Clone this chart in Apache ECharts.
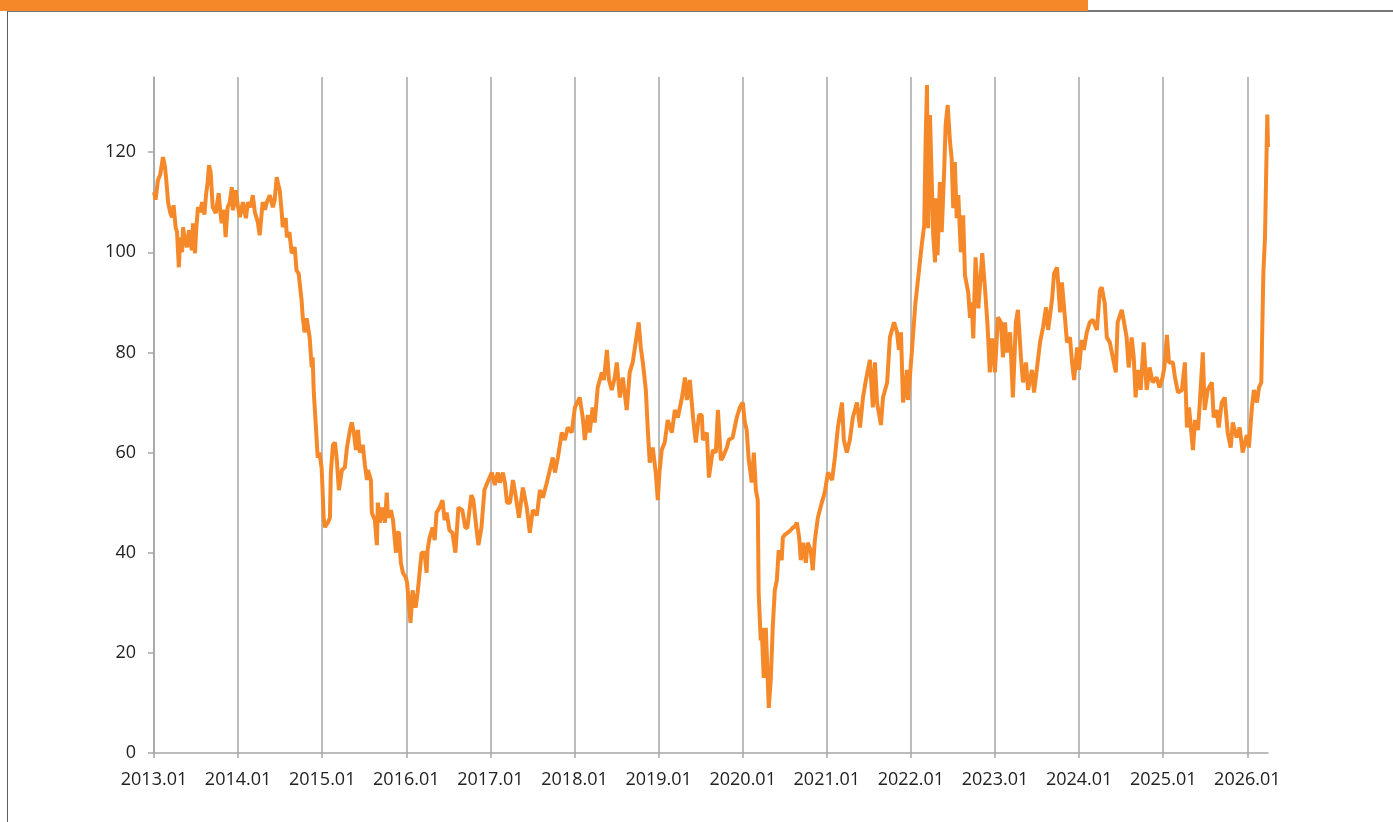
<!DOCTYPE html>
<html>
<head>
<meta charset="utf-8">
<title>Brent</title>
<script src="https://cdn.jsdelivr.net/npm/echarts@6/dist/echarts.min.js"></script>
<style>
  html, body { margin: 0; padding: 0; background: #fff; }
  #wrap { position: relative; width: 1393px; height: 822px; overflow: hidden; }
  #chart { position: absolute; left: 0; top: 0; width: 1393px; height: 822px; }
  #frame { position: absolute; left: 7px; top: 10px; right: -4px; bottom: -4px;
           border-left: 1.5px solid #5e5e5e; border-top: 2px solid #777; }
  #bar { position: absolute; left: 0; top: 0; width: 1088px; height: 11px; background: #F5892A; }
</style>
</head>
<body>
<div id="wrap">
  <div id="chart"></div>
  <div id="frame"></div>
  <div id="bar"></div>
</div>
<script>
// price points per year: 'MM-DD' and value
const d2013 = ['01-01','01-08','01-18','01-28','02-09','02-18','02-26','03-03','03-12','03-20',
               '03-27','04-05','04-11','04-19','04-25','05-03','05-07','05-15','05-24','06-02',
               '06-10','06-15','06-19','06-28','07-04','07-11','07-20','07-29','08-08','08-15',
               '08-22','08-28','09-04','09-13','09-26','10-09','10-16','10-22','11-01','11-08',
               '11-17','11-26','12-05','12-09','12-17','12-22'];
const p2013 = [112, 110.5, 114.4, 115.5, 119, 117, 113, 110, 108, 107,
               109.4, 105, 104, 97, 103, 100, 105, 102.5, 101, 104.4,
               101.5, 100.4, 105.8, 99.8, 105, 109, 108, 110, 107.5, 111.5,
               114, 117.4, 116, 109, 107.8, 111.8, 108, 105.8, 108.5, 103,
               109, 110, 113, 108.4, 110, 112.4];

const d2014 = ['01-01','01-09','01-22','02-04','02-13','02-25','03-06','03-15','03-28','04-05',
               '04-18','04-28','05-06','05-19','06-01','06-09','06-18','06-25','07-01','07-10',
               '07-14','07-27','08-01','08-12','08-22','09-04','09-12','09-21','10-04','10-09',
               '10-17','10-26','11-08','11-17','11-21','11-26','12-04','12-13','12-20','12-30'];
const p2014 = [109, 107, 110, 106.8, 110, 109, 111.4, 108, 106, 103.4,
               110, 108.5, 110, 111.4, 109, 110.4, 115, 113.5, 112.4, 107.8,
               105, 106.8, 103, 104, 99.8, 101, 96.4, 95.8, 90.4, 87,
               84, 86.8, 83, 77, 79, 72, 66, 59, 60, 57];

const d2015 = ['01-08','01-13','01-26','02-04','02-08','02-17','02-26','03-06','03-15','03-28',
               '04-10','04-19','05-02','05-10','05-19','05-28','06-06','06-14','06-27','07-06',
               '07-15','07-19','08-01','08-05','08-18','08-27','08-31','09-09','09-18','10-01',
               '10-09','10-14','10-27','11-05','11-18','11-22','12-01','12-09','12-18','12-31'];
const p2015 = [47, 45.1, 46, 47, 56, 61.5, 62, 58.5, 52.5, 56.5,
               57, 61, 64.5, 66, 64, 60.5, 64.5, 60, 61.5, 57.5,
               54.5, 56.5, 54.5, 48, 46.5, 41.5, 50, 46, 49, 46,
               52, 47, 48.5, 46.5, 40, 44, 44, 38, 36, 35];

const d2016 = ['01-05','01-20','01-29','02-11','02-20','03-08','03-21','03-30','04-03','04-12',
               '04-25','05-04','05-12','05-25','06-07','06-16','06-25','07-07','07-20','08-02',
               '08-15','09-01','09-14','09-23','10-10','10-19','11-01','11-10','11-23','12-06',
               '12-19'];
const p2016 = [34, 26, 32.5, 29, 32, 40, 40, 36, 40.5, 43,
               45, 42.5, 48, 49, 50.5, 46.5, 48, 44.5, 44, 40,
               49, 48.5, 45, 45, 51.5, 50.5, 45, 41.5, 45, 52.5,
               54];

const d2017 = ['01-07','01-20','02-02','02-11','02-24','03-05','03-14','03-27','04-09','04-22',
               '05-05','05-22','06-08','06-21','07-04','07-22','08-04','08-17','09-03','09-16',
               '09-29','10-08','10-21','11-07','11-20','12-03','12-20'];
const p2017 = [56, 53.5, 56, 54, 56, 54, 50, 50, 54.5, 51,
               47, 53, 49, 44, 48.5, 47.5, 52.5, 51, 54, 56.5,
               59, 56, 59, 64, 62.5, 65, 64];

const d2018 = ['01-03','01-24','02-06','02-15','02-28','03-08','03-21','03-30','04-12','04-30',
               '05-09','05-22','05-31','06-12','06-25','07-04','07-17','07-30','08-16','08-29',
               '09-11','09-24','10-07','10-16','10-25','11-07','11-15','11-24','12-07','12-20',
               '12-29'];
const p2018 = [69, 71, 67, 62.5, 67.5, 64, 69, 66, 73, 76,
               74.5, 80.5, 74.5, 72.5, 75, 78, 71, 75, 68.5, 76,
               78, 82, 86, 81, 78, 72.5, 65, 58, 61, 56,
               50.5];

const d2019 = ['01-05','01-15','01-28','02-10','02-28','03-13','03-26','04-13','04-26','05-04',
               '05-17','05-31','06-12','06-26','07-08','07-13','07-30','08-08','08-25','09-07',
               '09-16','09-29','10-07','10-25','11-02','11-19','11-28','12-07','12-20'];
const p2019 = [56, 60.5, 62, 66.5, 64, 68.5, 67, 71, 75, 70.5,
               74.5, 67, 62, 67.5, 67.5, 62.5, 64, 55, 60.5, 60,
               68.5, 58.5, 59, 61, 62.5, 63, 65, 67, 69];

const d2020 = ['01-02','01-11','01-19','01-28','02-10','02-19','02-28','03-07','03-11','03-20',
               '03-24','04-02','04-11','04-24','05-03','05-11','05-20','05-29','06-06','06-19',
               '06-24','07-01','07-15','07-28','08-06','08-15','08-24','09-03','09-10','09-19',
               '10-02','10-10','10-23','11-01','11-10','11-23','12-10','12-23'];
const p2020 = [70, 66, 64.5, 58.5, 54, 60, 52.5, 50.5, 32, 22.5,
               25, 15, 25, 9, 15, 25, 32.5, 34.5, 40.5, 38.5,
               43, 43.5, 44, 44.5, 45, 45.2, 46, 43, 38.5, 42,
               38, 42, 40.5, 36.5, 42.5, 47, 50, 52];

const d2021 = ['01-06','01-24','02-05','02-18','03-08','03-16','03-29','04-11','04-24','05-12',
               '05-25','06-07','06-20','07-07','07-20','07-29','08-07','08-24','09-02','09-20',
               '10-02','10-20','11-02','11-10','11-19','11-28','12-07','12-15','12-20'];
const p2021 = [56, 54.5, 59, 65, 70, 62.5, 60, 62.5, 67, 70,
               65, 71, 74.5, 78.5, 69, 78, 70, 65.5, 71, 74,
               83, 86, 84, 80.5, 84, 70, 72.5, 76.5, 70.5];

const d2022 = ['01-05','01-20','02-03','02-17','02-28','03-06','03-12','03-17','03-25','04-01',
               '04-08','04-16','04-20','04-27','05-07','05-15','05-26','06-01','06-10','06-20',
               '06-27','07-04','07-11','07-19','07-26','08-06','08-16','08-24','09-07','09-15',
               '09-22','09-29','10-09','10-21','11-07','11-19','11-30','12-10','12-20','12-28'];
const p2022 = [80, 89.5, 95.4, 101.4, 105.4, 122, 133.4, 104.8, 127.4, 115.4,
               103.4, 98, 110.8, 99.4, 114, 104, 116.8, 125.4, 129.4, 122,
               118.8, 108.8, 118, 106.8, 111.4, 100, 107.4, 95.4, 92, 86.9,
               90, 82.8, 99, 88.8, 99.8, 92.8, 85.4, 76, 82.8, 79];

const d2023 = ['01-01','01-14','01-27','02-05','02-14','02-23','03-08','03-20','04-02','04-11',
               '04-24','05-03','05-16','05-25','06-11','06-20','07-03','07-16','07-29','08-11',
               '08-20','09-06','09-15','09-28','10-11','10-19','11-01','11-10','11-23','12-02',
               '12-11','12-24'];
const p2023 = [76, 87, 86, 79, 86, 80, 84, 71, 86, 88.5,
               79, 74, 78, 72.5, 76.5, 72, 77, 82, 85, 89,
               84.5, 90.5, 95.8, 97, 88, 94, 87, 82, 83, 78,
               74.5, 81];

const d2024 = ['01-01','01-13','01-22','02-04','02-17','03-01','03-19','04-01','04-09','04-22',
               '05-01','05-14','05-27','06-09','06-17','07-05','07-13','07-26','08-04','08-17',
               '08-26','09-03','09-12','09-25','10-08','10-21','11-03','11-16','12-03','12-16',
               '12-29'];
const p2024 = [76.5, 82.5, 80.5, 84, 86, 86.5, 84.5, 92.4, 93, 89.8,
               83, 82, 79, 76, 86, 88.5, 86.5, 83, 77, 83,
               79, 71, 76.5, 72.5, 82, 72.5, 77, 74, 75, 73,
               75];

const d2025 = ['01-06','01-17','01-26','02-12','02-21','03-06','03-23','04-05','04-14','04-23',
               '05-10','05-19','06-01','06-09','06-22','06-30','07-13','07-31','08-08','08-21',
               '08-30','09-12','09-25','10-08','10-21','10-30','11-16','11-29','12-12','12-30'];
const p2025 = [77, 83.5, 78, 78, 75, 72, 72.5, 78, 65, 69,
               60.5, 66.5, 64.5, 70, 80, 68.5, 72.5, 74, 67, 68.5,
               65, 70, 71, 64, 61, 66, 63, 65, 60, 63.5];

const d2026 = ['01-08','01-21','01-30','02-12','02-21','03-03','03-06','03-12','03-19','03-25',
               '03-29','04-01'];
const p2026 = [61, 69, 72.5, 70, 73, 74, 82, 96, 103, 118,
               127.5, 121];

const years = [2013, 2014, 2015, 2016, 2017, 2018, 2019, 2020, 2021, 2022, 2023, 2024, 2025, 2026];
const yearDates = [d2013, d2014, d2015, d2016, d2017, d2018, d2019, d2020, d2021, d2022, d2023, d2024, d2025, d2026];
const yearPrices = [p2013, p2014, p2015, p2016, p2017, p2018, p2019, p2020, p2021, p2022, p2023, p2024, p2025, p2026];

const xLabels = ['2013.01', '2014.01', '2015.01', '2016.01', '2017.01', '2018.01', '2019.01',
                 '2020.01', '2021.01', '2022.01', '2023.01', '2024.01', '2025.01', '2026.01'];
const yTicks = [0, 20, 40, 60, 80, 100, 120];
const xStart = '2013-01-01';
const xEnd = '2026-04-01';

const T0 = Date.parse(xStart);
const YEAR_MS = 365.25 * 24 * 3600 * 1000;
const ORANGE = '#F5892A';
const GRID_GREY = '#a6a6a6';
const FONT = '"Open Sans", sans-serif';

const seriesData = [];
years.forEach((y, i) => {
    if (yearDates[i].length !== yearPrices[i].length) {
        console.error('length mismatch', y, yearDates[i].length, yearPrices[i].length);
    }
    yearDates[i].forEach((md, j) => {
        seriesData.push([Date.parse(y + '-' + md) - T0, yearPrices[i][j]]);
    });
});

const chart = echarts.init(document.getElementById('chart'), null, { renderer: 'canvas' });

chart.setOption({
    animation: false,
    grid: { left: 154, right: 125, top: 77, bottom: 69 },
    xAxis: {
        type: 'value',
        min: 0,
        max: Date.parse(xEnd) - T0,
        interval: YEAR_MS,
        axisLine: { show: true, lineStyle: { color: GRID_GREY, width: 1.5 } },
        axisTick: { show: true, length: 5, lineStyle: { color: GRID_GREY, width: 1.5 } },
        axisLabel: {
            color: '#222',
            fontSize: 18,
            fontFamily: FONT,
            margin: 18,
            showMaxLabel: false,
            formatter: function (v) {
                const k = v / YEAR_MS;
                const r = Math.round(k);
                if (Math.abs(k - r) > 0.01) return '';
                return xLabels[r] || '';
            },
        },
        splitLine: {
            show: true,
            showMaxLine: false,
            lineStyle: { color: GRID_GREY, width: 1.5 },
        },
    },
    yAxis: {
        type: 'value',
        min: 0,
        max: 135,
        axisLine: { show: true, lineStyle: { color: GRID_GREY, width: 1.5 } },
        axisTick: { show: true, length: 6, customValues: yTicks, lineStyle: { color: GRID_GREY, width: 1.5 } },
        axisLabel: {
            customValues: yTicks,
            color: '#222',
            fontSize: 18,
            fontFamily: FONT,
            margin: 18,
        },
        splitLine: { show: false },
    },
    series: [
        {
            type: 'line',
            data: seriesData,
            showSymbol: false,
            lineStyle: { color: ORANGE, width: 4 },
            itemStyle: { color: ORANGE },
        },
    ],
});
</script>
</body>
</html>
